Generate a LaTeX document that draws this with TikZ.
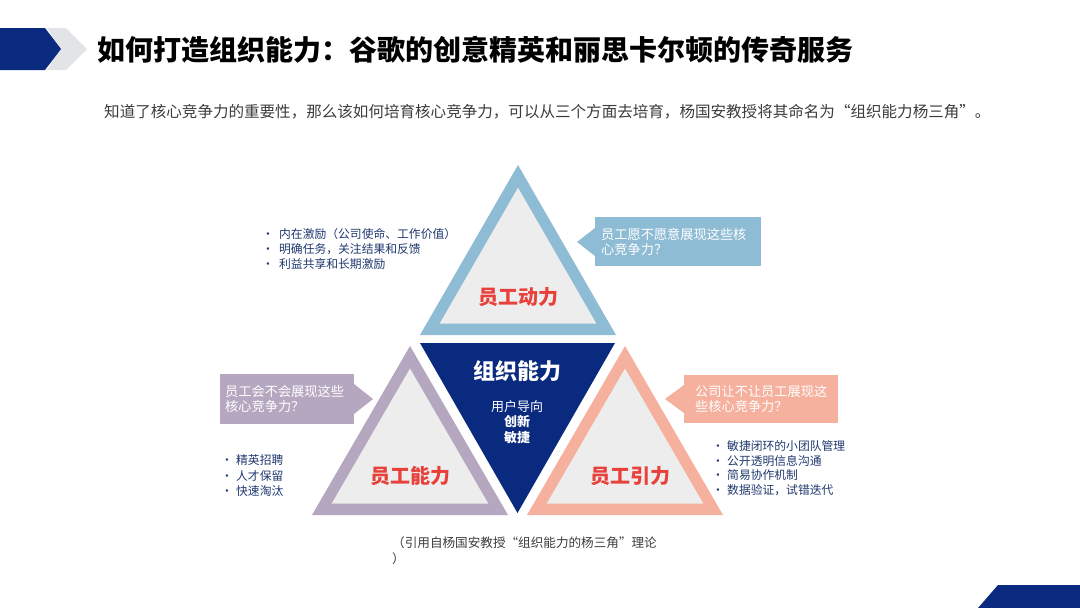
\documentclass[tikz,border=0pt]{standalone}
\usepackage{fontspec}
\setmainfont{Noto Sans CJK SC}
\usetikzlibrary{calc}

\definecolor{navy}{RGB}{10,42,128}
\definecolor{chevgray}{RGB}{226,228,232}
\definecolor{dlblue}{RGB}{142,188,212}
\definecolor{dlpurple}{RGB}{181,167,191}
\definecolor{dlsalmon}{RGB}{245,176,158}
\definecolor{inner}{RGB}{237,237,237}
\definecolor{labred}{RGB}{232,64,58}
\definecolor{listtxt}{RGB}{31,56,110}
\definecolor{bodytxt}{RGB}{60,60,60}

\tikzset{
  txt/.style={inner sep=0pt, anchor=west},
  trilabel/.style={inner sep=0pt, text=labred, font=\fontsize{20}{24}\selectfont\bfseries},
  calltxt/.style={txt, text=white, align=left, font=\fontsize{13.2}{15}\selectfont},
  listbox/.style={txt, text=listtxt, align=left, font=\fontsize{11.8}{14.6}\selectfont},
}

\begin{document}
\begin{tikzpicture}[x=1pt,y=-1pt]
  \useasboundingbox (0,0) rectangle (1080,608);

  % hlavička
  \fill[chevgray] (47,28) -- (66,28) -- (87,49) -- (66,70) -- (47,70) -- (60,49) -- cycle;
  \fill[navy] (0,28) -- (45,28) -- (61,49) -- (45,70) -- (0,70) -- cycle;
  \node[txt, font=\fontsize{28}{32}\selectfont\bfseries] (title) at (97,50)
    {如何打造组织能力：谷歌的创意精英和丽思卡尔顿的传奇服务};
  \node[txt, text=bodytxt, font=\fontsize{15.55}{18}\selectfont] (intro) at (104,112)
    {知道了核心竞争力的重要性，那么该如何培育核心竞争力，可以从三个方面去培育，杨国安教授将其命名为“组织能力杨三角”。};

  % horní trojúhelník
  \coordinate (A1) at (518,165);
  \coordinate (B1) at (420,335);
  \coordinate (C1) at (616,335);
  \coordinate (S1) at (barycentric cs:A1=1,B1=1,C1=1);
  \fill[dlblue] (A1) -- (B1) -- (C1) -- cycle;
  \fill[inner] ($(S1)!0.8!(A1)$) -- ($(S1)!0.8!(B1)$) -- ($(S1)!0.8!(C1)$) -- cycle;
  \node[trilabel] (motiv) at (518,297) {员工动力};

  % levý trojúhelník
  \coordinate (A2) at (410,346);
  \coordinate (B2) at (312,515);
  \coordinate (C2) at (508,515);
  \coordinate (S2) at (barycentric cs:A2=1,B2=1,C2=1);
  \fill[dlpurple] (A2) -- (B2) -- (C2) -- cycle;
  \fill[inner] ($(S2)!0.8!(A2)$) -- ($(S2)!0.8!(B2)$) -- ($(S2)!0.8!(C2)$) -- cycle;
  \node[trilabel] (abil) at (410,476) {员工能力};

  % pravý trojúhelník
  \coordinate (A3) at (625,346);
  \coordinate (B3) at (527,515);
  \coordinate (C3) at (723,515);
  \coordinate (S3) at (barycentric cs:A3=1,B3=1,C3=1);
  \fill[dlsalmon] (A3) -- (B3) -- (C3) -- cycle;
  \fill[inner] ($(S3)!0.8!(A3)$) -- ($(S3)!0.8!(B3)$) -- ($(S3)!0.8!(C3)$) -- cycle;
  \node[trilabel] (pull) at (630,476) {员工引力};

  % střed
  \fill[navy] (420,343) coordinate (D1) -- (615,343) coordinate (D2) -- (517.5,513) coordinate (D3) -- cycle;
  \node[inner sep=0pt, text=white, font=\fontsize{22}{26}\selectfont\bfseries] (org) at (517,371) {组织能力};
  \node[inner sep=0pt, text=white, font=\fontsize{13}{15}\selectfont] (user) at (517,407) {用户导向};
  \node[inner sep=0pt, text=white, font=\fontsize{13}{15}\selectfont\bfseries] (innov) at (517,422) {创新};
  \node[inner sep=0pt, text=white, font=\fontsize{13}{15}\selectfont\bfseries] (agile) at (517,438) {敏捷};

  % bubliny
  \fill[dlblue] (595,217) rectangle (761,266);
  \fill[dlblue] (595,228) -- (577,242) -- (595,256) -- cycle;
  \node[calltxt] (qmotiv) at (601,242) {员工愿不愿意展现这些核\\心竞争力？};

  \fill[dlpurple] (220,374) rectangle (354,424);
  \fill[dlpurple] (354,384) -- (373,399) -- (354,414) -- cycle;
  \node[calltxt] (qabil) at (225,399) {员工会不会展现这些\\核心竞争力？};

  \fill[dlsalmon] (684,375) rectangle (838,423);
  \fill[dlsalmon] (684,385) -- (665,399) -- (684,413) -- cycle;
  \node[calltxt] (qpull) at (695,399) {公司让不让员工展现这\\些核心竞争力？};

  % seznamy
  \node[listbox] (lmotiv) at (262,249)
    {\makebox[17pt][l]{•}内在激励（公司使命、工作价值）\\
     \makebox[17pt][l]{•}明确任务，关注结果和反馈\\
     \makebox[17pt][l]{•}利益共享和长期激励};
  \node[listbox, font=\fontsize{11.8}{15.5}\selectfont] (labil) at (221,476)
    {\makebox[15pt][l]{•}精英招聘\\
     \makebox[15pt][l]{•}人才保留\\
     \makebox[15pt][l]{•}快速淘汰};
  \node[listbox] (lpull) at (712,468)
    {\makebox[15pt][l]{•}敏捷闭环的小团队管理\\
     \makebox[15pt][l]{•}公开透明信息沟通\\
     \makebox[15pt][l]{•}简易协作机制\\
     \makebox[15pt][l]{•}数据验证，试错迭代};

  % citace
  \node[txt, text=bodytxt, align=left, font=\fontsize{12.6}{16}\selectfont] (cite) at (392,551)
    {（引用自杨国安教授“组织能力的杨三角”理论\\）};

  % roh
  \fill[navy] (978,608) -- (998,585) -- (1080,585) -- (1080,608) -- cycle;
\end{tikzpicture}
\end{document}
